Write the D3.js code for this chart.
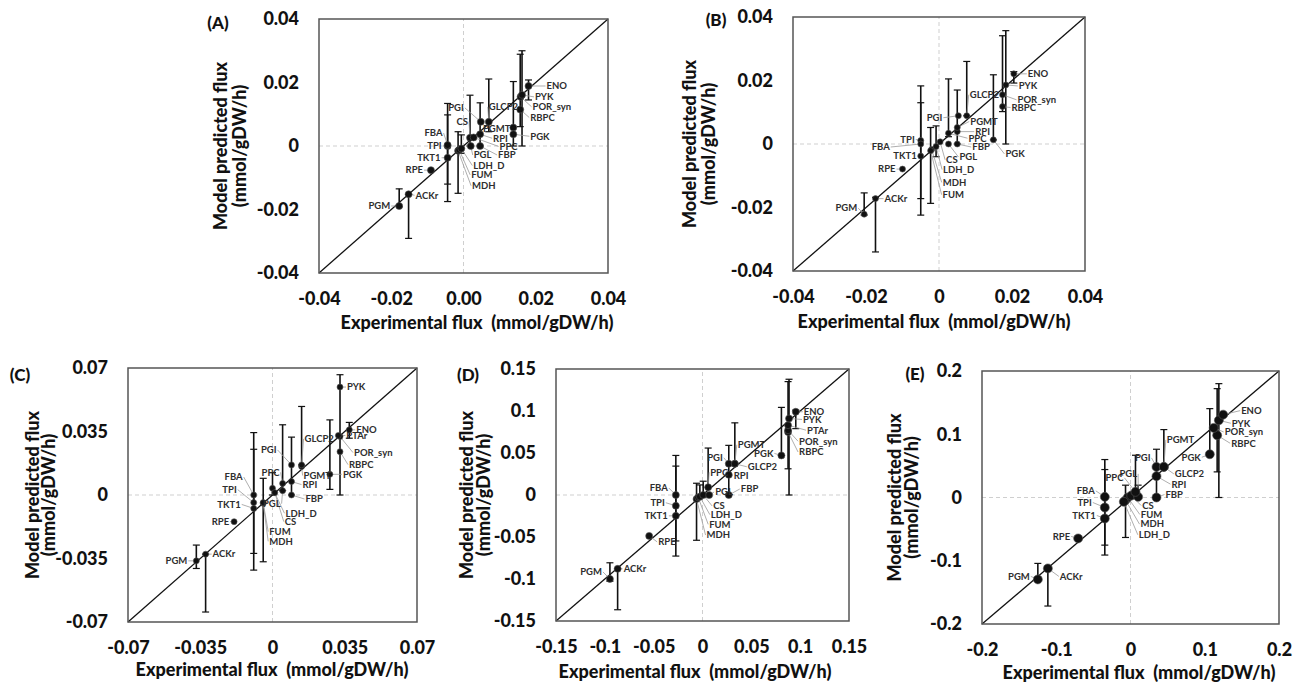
<!DOCTYPE html>
<meta charset="utf-8">
<style>
 body { margin: 0; background: #fff; }
 svg { font-family: Lato, "Open Sans", sans-serif; }
 .tick text { font-weight: 900; fill: #111; }
 .ptlab { font-size: 9.5px; font-weight: bold; fill: #2e2e2e; }
 .ttl { font-weight: 900; fill: #111; }
</style>
<svg width="1299" height="686"></svg>
<script src="https://d3js.org/d3.v7.min.js"></script>
<script>

 // ---- data (flux values, mmol/gDW/h) ----
 var rxnA = ["PGM","ACKr","RPE","TKT1","TPI","FBA","MDH","FUM","LDH_D","CS","PGL","PPC","FBP","RPI","PGI","PGMT","GLCP2","PGK","RBPC","POR_syn","PYK","ENO"];
 var expA = [-0.0178,-0.0152,-0.0090,-0.0044,-0.0044,-0.0044,-0.0015,-0.0012,-0.0006,0.0018,0.0020,0.0028,0.0046,0.0046,0.0048,0.0138,0.0070,0.0138,0.0157,0.0158,0.0162,0.0180];
 var modA = [-0.0189,-0.0152,-0.0076,-0.0037,0.0000,0.0003,-0.0015,-0.0012,-0.0008,0.0026,0.0000,0.0027,0.0000,0.0037,0.0076,0.0058,0.0076,0.0037,0.0115,0.0155,0.0161,0.0189];
 var loA  = [-0.0191,-0.0291,null,null,-0.0120,-0.0175,-0.0149,null,-0.0023,0.0000,null,null,0.0000,null,null,null,0.0045,0.0000,0.0061,null,0.0000,0.0145];
 var hiA  = [-0.0135,-0.0152,null,null,0.0098,0.0134,0.0045,null,0.0035,0.0160,null,null,0.0136,null,null,null,0.0211,0.0203,0.0289,null,0.0300,0.0208];

 var rxnB = ["PGM","ACKr","RPE","TKT1","TPI","FBA","MDH","FUM","LDH_D","CS","PGL","PPC","FBP","RPI","PGI","PGMT","GLCP2","PGK","RBPC","POR_syn","PYK","ENO"];
 var expB = [-0.0205,-0.0174,-0.0100,-0.0050,-0.0050,-0.0050,-0.0020,-0.0023,-0.0008,0.0003,0.0026,0.0026,0.0050,0.0050,0.0053,0.0050,0.0076,0.0149,0.0174,0.0174,0.0183,0.0205];
 var modB = [-0.0221,-0.0172,-0.0079,-0.0038,0.0011,0.0000,-0.0017,-0.0021,-0.0008,0.0007,0.0000,0.0034,0.0000,0.0039,0.0089,0.0052,0.0089,0.0013,0.0118,0.0155,0.0186,0.0221];
 var loB  = [-0.0224,-0.0340,null,-0.0172,null,-0.0224,null,-0.0187,-0.0040,null,null,0.0023,0.0000,null,null,null,0.0089,0.0013,0.0102,null,0.0000,0.0192];
 var hiB  = [-0.0154,-0.0168,null,0.0130,null,0.0183,null,0.0052,0.0057,null,null,0.0205,0.0170,null,null,null,0.0260,0.0218,0.0341,null,0.0357,0.0228];

 var rxnC = ["PGM","ACKr","RPE","TKT1","TPI","FBA","MDH","FUM","LDH_D","CS","PGL","PPC","FBP","RPI","PGI","PGMT","GLCP2","PGK","RBPC","POR_syn","PTAr","PYK","ENO"];
 var expC = [-0.0369,-0.0324,-0.0186,-0.0091,-0.0091,-0.0091,-0.0045,-0.0045,0.0000,0.0011,0.0049,0.0049,0.0092,0.0092,0.0092,0.0141,0.0141,0.0278,0.0327,0.0327,0.0319,0.0327,0.0372];
 var modC = [-0.0363,-0.0326,-0.0147,-0.0074,-0.0042,0.0000,-0.0046,-0.0042,0.0037,0.0013,0.0024,0.0064,0.0000,0.0074,0.0166,0.0157,0.0166,0.0114,0.0239,0.0322,0.0328,0.0595,0.0359];
 var loC  = [-0.0405,-0.0645,null,null,-0.0322,-0.0414,-0.0368,null,0.0000,null,null,0.0024,0.0000,null,null,null,0.0166,0.0031,null,null,null,0.0000,0.0313];
 var hiC  = [-0.0276,-0.0326,null,null,0.0252,0.0344,0.0092,null,0.0123,null,null,0.0387,0.0319,null,null,null,0.0488,0.0414,null,null,null,0.0663,0.0400];

 var rxnD = ["PGM","ACKr","RPE","TKT1","TPI","FBA","MDH","FUM","LDH_D","CS","PGL","PPC","FBP","RPI","PGI","PGMT","GLCP2","PGK","RBPC","POR_syn","PTAr","PYK","ENO"];
 var expD = [-0.0948,-0.0869,-0.0546,-0.0273,-0.0273,-0.0273,-0.0061,-0.0044,-0.0027,0.0007,0.0068,0.0058,0.0269,0.0269,0.0269,0.0331,0.0331,0.0808,0.0876,0.0876,0.0876,0.0886,0.0955];
 var modD = [-0.0999,-0.0879,-0.0487,-0.0248,-0.0128,0.0000,-0.0048,-0.0028,-0.0020,0.0000,0.0000,0.0092,0.0000,0.0240,0.0372,0.0372,0.0372,0.0471,0.0750,0.0771,0.0831,0.0911,0.0991];
 var loD  = [-0.1027,-0.1366,null,null,-0.0547,-0.0727,-0.0539,null,-0.0020,-0.0020,null,0.0092,0.0000,null,null,0.0372,null,0.0471,0.0312,null,null,0.0000,0.0790];
 var hiD  = [-0.0807,-0.0879,null,null,0.0344,0.0471,0.0140,null,0.0120,0.0164,null,0.0559,0.0591,null,null,0.0859,null,0.1043,0.1350,null,null,0.1378,0.1010];

 var rxnE = ["PGM","ACKr","RPE","TKT1","TPI","FBA","MDH","FUM","LDH_D","CS","PGL","PPC","FBP","RPI","PGI","PGMT","GLCP2","PGK","RBPC","POR_syn","PYK","ENO"];
 var expE = [-0.1248,-0.1113,-0.0705,-0.0346,-0.0346,-0.0346,-0.0067,-0.0036,-0.0090,0.0010,0.0103,0.0067,0.0350,0.0350,0.0350,0.0449,0.0449,0.1068,0.1167,0.1120,0.1190,0.1248];
 var modE = [-0.1295,-0.1121,-0.0647,-0.0332,-0.0158,0.0010,-0.0042,0.0000,-0.0068,0.0030,0.0010,0.0089,0.0000,0.0337,0.0484,0.0484,0.0484,0.0684,0.0984,0.1100,0.1221,0.1310];
 var loE  = [-0.1295,-0.1716,null,null,-0.0753,-0.0910,-0.0632,null,null,null,-0.0010,0.0000,0.0000,null,null,0.0484,null,0.0684,0.0405,null,0.0000,null];
 var hiE  = [-0.1042,-0.1121,null,null,0.0442,0.0600,0.0195,null,null,null,0.0195,0.0668,0.0763,null,null,0.1074,null,0.1405,0.1721,null,0.1800,null];

 // label placement offsets [dx, dy] in px from the point (layout only)
 var labOffA = [[-9,0],[7,1],[-8,0],[-7,0],[-6,0],[-5,-12],[14,35],[12,25],[12,17],[-2,-16],[3,9],[26,9],[18,9],[13,4],[-17,-14],[-3,1],[0,-15],[17,2],[10,8],[12,10],[13,2],[18,0]];
 var labOffB = [[-7,-6],[9,0],[-7,0],[-4,0],[-6,-1],[-31,3],[11,33],[12,44],[7,23],[6,18],[11,13],[20,5],[15,3],[18,0],[-16,2],[13,-6],[3,-21],[12,14],[9,1],[15,5],[13,1],[14,0]];
 var labOffC = [[-9,0],[7,0],[-5,0],[-13,-4],[-17,-13],[-11,-18],[6,38],[6,29],[13,25],[10,29],[-2,13],[-3,-11],[14,4],[11,3],[-15,-15],[2,9],[3,-26],[13,0],[9,13],[14,16],[8,0],[7,0],[7,0]];
 var labOffD = [[-8,-7],[6,0],[9,6],[-8,0],[-11,-3],[-8,-7],[10,36],[11,27],[11,18],[10,11],[6,-3],[2,-15],[12,-6],[5,1],[-6,-6],[3,-19],[13,3],[-8,-2],[11,20],[11,11],[19,5],[14,1],[8,0]];
 var labOffE = [[-8,-3],[12,8],[-8,-2],[-9,-3],[-13,-5],[-10,-6],[15,24],[13,17],[15,33],[11,10],[-1,-23],[-12,-14],[9,-3],[15,8],[-6,-9],[3,-27],[11,7],[-9,3],[14,8],[11,4],[13,3],[18,-4]];

 var panels = [
   { tag: "(A)", rxn: rxnA, ex: expA, mo: modA, lo: loA, hi: hiA, off: labOffA,
     domain: [-0.04, 0.04], ticks: [-0.04, -0.02, 0, 0.02, 0.04],
     xLab: ["-0.04","-0.02","0.00","0.02","0.04"], yLab: ["-0.04","-0.02","0","0.02","0.04"],
     box: [319, 608, 19, 273], tagAt: [218, 23], yTitleX: [221, 240], xTitleAt: [477, 323], r: 3.5 },
   { tag: "(B)", rxn: rxnB, ex: expB, mo: modB, lo: loB, hi: hiB, off: labOffB,
     domain: [-0.04, 0.04], ticks: [-0.04, -0.02, 0, 0.02, 0.04],
     xLab: ["-0.04","-0.02","0","0.02","0.04"], yLab: ["-0.04","-0.02","0","0.02","0.04"],
     box: [793, 1085, 17, 271], tagAt: [716, 20], yTitleX: [690, 709], xTitleAt: [934, 322], r: 3 },
   { tag: "(C)", rxn: rxnC, ex: expC, mo: modC, lo: loC, hi: hiC, off: labOffC,
     domain: [-0.07, 0.07], ticks: [-0.07, -0.035, 0, 0.035, 0.07],
     xLab: ["-0.07","-0.035","0","0.035","0.07"], yLab: ["-0.07","-0.035","0","0.035","0.07"],
     box: [128, 417, 368, 622], tagAt: [20, 375], yTitleX: [33, 49], xTitleAt: [272, 670], r: 3 },
   { tag: "(D)", rxn: rxnD, ex: expD, mo: modD, lo: loD, hi: hiD, off: labOffD,
     domain: [-0.15, 0.15], ticks: [-0.15, -0.1, -0.05, 0, 0.05, 0.1, 0.15],
     xLab: ["-0.15","-0.1","-0.05","0","0.05","0.1","0.15"], yLab: ["-0.15","-0.1","-0.05","0","0.05","0.1","0.15"],
     box: [556, 849, 369, 621], tagAt: [468, 375], yTitleX: [467, 484], xTitleAt: [695, 672], r: 3.5 },
   { tag: "(E)", rxn: rxnE, ex: expE, mo: modE, lo: loE, hi: hiE, off: labOffE,
     domain: [-0.2, 0.2], ticks: [-0.2, -0.1, 0, 0.1, 0.2],
     xLab: ["-0.2","-0.1","0","0.1","0.2"], yLab: ["-0.2","-0.1","0","0.1","0.2"],
     box: [982, 1279, 371, 624], tagAt: [915, 374], yTitleX: [895, 912], xTitleAt: [1139, 673], r: 4.5 }
 ];

 var svg = d3.select("svg");

 panels.forEach(drawPanel);

 function drawPanel(p) {
   var x = d3.scaleLinear().domain(p.domain).range([p.box[0], p.box[1]]);
   var y = d3.scaleLinear().domain(p.domain).range([p.box[3], p.box[2]]);
   var g = svg.append("g");
   var d0 = p.domain[0], d1 = p.domain[1];

   // dashed zero lines
   g.append("line")
     .attr("x1", x(0)).attr("x2", x(0)).attr("y1", y(d0)).attr("y2", y(d1))
     .attr("stroke", "#cfcfcf").attr("stroke-dasharray", "4,3");
   g.append("line")
     .attr("x1", x(d0)).attr("x2", x(d1)).attr("y1", y(0)).attr("y2", y(0))
     .attr("stroke", "#cfcfcf").attr("stroke-dasharray", "4,3");

   // 1:1 line
   g.append("line")
     .attr("x1", x(d0)).attr("y1", y(d0)).attr("x2", x(d1)).attr("y2", y(d1))
     .attr("stroke", "#111").attr("stroke-width", 1.3);

   // axes
   var xa = g.append("g")
     .attr("transform", "translate(0," + p.box[3] + ")")
     .call(d3.axisBottom(x).tickValues(p.ticks).tickFormat(function(d, i) { return p.xLab[i]; })
       .tickSize(0).tickPadding(19));
   var ya = g.append("g")
     .attr("transform", "translate(" + p.box[0] + ",0)")
     .call(d3.axisLeft(y).tickValues(p.ticks).tickFormat(function(d, i) { return p.yLab[i]; })
       .tickSize(0).tickPadding(20));
   [xa, ya].forEach(function(a) {
     a.select(".domain").remove();
     a.attr("font-family", null).attr("font-size", null);
     a.selectAll("text").style("font-size", "18px");
   });

   // titles
   g.append("text").attr("class", "ttl")
     .attr("x", p.tagAt[0]).attr("y", p.tagAt[1]).attr("dy", "0.35em")
     .attr("text-anchor", "middle").style("font-size", "17px").text(p.tag);
   g.append("text").attr("class", "ttl")
     .attr("x", p.xTitleAt[0]).attr("y", p.xTitleAt[1]).attr("dy", "0.35em")
     .attr("text-anchor", "middle").style("font-size", "18px")
     .attr("xml:space", "preserve").text("Experimental flux  (mmol/gDW/h)");
   var cy = (p.box[2] + p.box[3]) / 2;
   ["Model predicted flux", "(mmol/gDW/h)"].forEach(function(t, i) {
     g.append("text").attr("class", "ttl")
       .attr("transform", "translate(" + p.yTitleX[i] + "," + cy + ") rotate(-90)")
       .attr("dy", "0.35em").attr("text-anchor", "middle").style("font-size", "18px").text(t);
   });

   var rows = p.rxn.map(function(n, i) {
     return { name: n, ex: p.ex[i], mo: p.mo[i], lo: p.lo[i], hi: p.hi[i], off: p.off[i] };
   });

   // error bars
   var bars = g.append("g").selectAll("g")
     .data(rows.filter(function(d) { return d.lo !== null; }))
     .enter().append("g").attr("stroke", "#111").attr("stroke-width", 1.6);
   bars.append("line")
     .attr("x1", function(d) { return x(d.ex); }).attr("x2", function(d) { return x(d.ex); })
     .attr("y1", function(d) { return y(d.lo); }).attr("y2", function(d) { return y(d.hi); });
   ["lo", "hi"].forEach(function(k) {
     bars.append("line")
       .attr("x1", function(d) { return x(d.ex) - 3.5; }).attr("x2", function(d) { return x(d.ex) + 3.5; })
       .attr("y1", function(d) { return y(d[k]); }).attr("y2", function(d) { return y(d[k]); })
       .attr("stroke-width", 1.2);
   });

   // leader lines
   g.append("g").selectAll("line").data(rows).enter().append("line")
     .attr("x1", function(d) { return x(d.ex); })
     .attr("y1", function(d) { return y(d.mo); })
     .attr("x2", function(d) { return x(d.ex) + d.off[0] + (d.off[0] < 0 ? 1 : -1); })
     .attr("y2", function(d) { return y(d.mo) + d.off[1]; })
     .attr("stroke", "#9a9a9a").attr("stroke-width", 0.8);

   // points
   g.append("g").selectAll("circle").data(rows).enter().append("circle")
     .attr("cx", function(d) { return x(d.ex); })
     .attr("cy", function(d) { return y(d.mo); })
     .attr("r", p.r).attr("fill", "#111").attr("stroke", "#555").attr("stroke-width", 0.6);

   // point labels
   g.append("g").selectAll("text").data(rows).enter().append("text")
     .attr("class", "ptlab")
     .attr("x", function(d) { return x(d.ex) + d.off[0]; })
     .attr("y", function(d) { return y(d.mo) + d.off[1]; })
     .attr("dy", "0.35em")
     .attr("text-anchor", function(d) { return d.off[0] < 0 ? "end" : "start"; })
     .text(function(d) { return d.name; });

   // frame
   g.append("rect")
     .attr("x", p.box[0]).attr("y", p.box[2])
     .attr("width", p.box[1] - p.box[0]).attr("height", p.box[3] - p.box[2])
     .attr("fill", "none").attr("stroke", "#555").attr("stroke-width", 1.5);
 }
</script>
